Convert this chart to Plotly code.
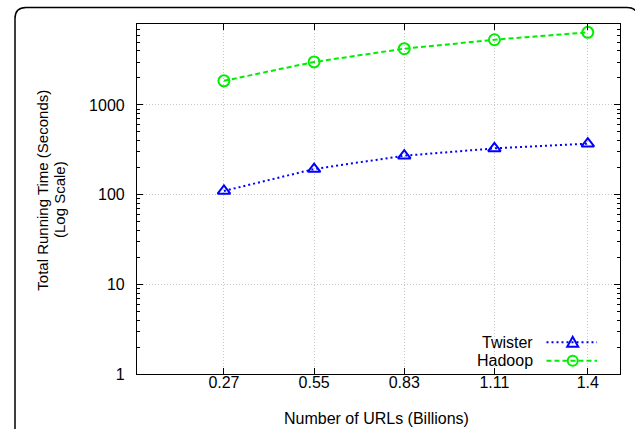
import plotly.graph_objects as go
import math

# ---- data ----
urls_billions = [0.27, 0.55, 0.83, 1.11, 1.4]
x_tick_labels = ["0.27", "0.55", "0.83", "1.11", "1.4"]
twister_seconds = [110, 193, 272, 328, 370]
hadoop_seconds = [1860, 3020, 4240, 5340, 6460]
y_tick_values = [1, 10, 100, 1000]
y_tick_labels = ["1", "10", "100", "1000"]

W, H = 635, 429
L, R, T, B = 137, 15, 24, 55
PW, PH = W - L - R, H - T - B

def px(xp):
    return (xp - L) / PW

def py(yp):
    return (H - B - yp) / PH

BLUE = "#0000ff"
GREEN = "#00ee00"
FONT = "Liberation Sans, Arial, Helvetica, sans-serif"

fig = go.Figure()
fig.add_trace(go.Scatter(
    x=urls_billions, y=twister_seconds, name="Twister", mode="lines+markers",
    line=dict(color=BLUE, width=2, dash="2px,3px"),
    marker=dict(symbol="triangle-up-open", size=11, color=BLUE, line=dict(width=2, color=BLUE)),
    showlegend=False))
fig.add_trace(go.Scatter(
    x=urls_billions, y=hadoop_seconds, name="Hadoop", mode="lines+markers",
    line=dict(color=GREEN, width=2, dash="5px,3px"),
    marker=dict(symbol="circle-open", size=11, color=GREEN, line=dict(width=2, color=GREEN)),
    showlegend=False))

shapes = []
# rounded outer border
x0, x1, y0, y1, r = 15, 638, 7.5, 445, 11
path = (f"M {px(x0+r)},{py(y0)} L {px(x1-r)},{py(y0)} Q {px(x1)},{py(y0)} {px(x1)},{py(y0+r)} "
        f"L {px(x1)},{py(y1-r)} Q {px(x1)},{py(y1)} {px(x1-r)},{py(y1)} "
        f"L {px(x0+r)},{py(y1)} Q {px(x0)},{py(y1)} {px(x0)},{py(y1-r)} "
        f"L {px(x0)},{py(y0+r)} Q {px(x0)},{py(y0)} {px(x0+r)},{py(y0)} Z")
shapes.append(dict(type="path", xref="paper", yref="paper", path=path,
                   line=dict(color="black", width=1.5), layer="below"))

# custom legend (text left of sample, gnuplot style)
leg = [("Twister", BLUE, "2px,3px", 342.3, "tri"), ("Hadoop", GREEN, "5px,3px", 360.7, "circ")]
annotations = []
for name, col, dash, yy, mk in leg:
    annotations.append(dict(text=name, x=px(535), y=py(yy), xref="paper", yref="paper",
                            xanchor="right", yanchor="middle", showarrow=False,
                            font=dict(size=16, color="black", family=FONT)))
    shapes.append(dict(type="line", xref="paper", yref="paper", x0=px(546.5), x1=px(597),
                       y0=py(yy), y1=py(yy), line=dict(color=col, width=2, dash=dash)))
    cx = 572.7
    if mk == "tri":
        p = (f"M {px(cx-5.5)},{py(yy+4.5)} L {px(cx+5.5)},{py(yy+4.5)} L {px(cx)},{py(yy-5.5)} Z")
        shapes.append(dict(type="path", xref="paper", yref="paper", path=p,
                           line=dict(color=col, width=2), fillcolor="rgba(0,0,0,0)"))
    else:
        shapes.append(dict(type="circle", xref="paper", yref="paper",
                           x0=px(cx-5), x1=px(cx+5), y0=py(yy+5), y1=py(yy-5),
                           line=dict(color=col, width=2)))

# y-axis title (two lines)
annotations.append(dict(text="Total Running Time (Seconds)", x=px(41.7), y=py(190),
                        xref="paper", yref="paper", textangle=-90, showarrow=False,
                        xanchor="center", yanchor="middle",
                        font=dict(size=15, color="black", family=FONT)))
annotations.append(dict(text="(Log Scale)", x=px(59), y=py(200),
                        xref="paper", yref="paper", textangle=-90, showarrow=False,
                        xanchor="center", yanchor="middle",
                        font=dict(size=15, color="black", family=FONT)))
annotations.append(dict(text="Number of URLs (Billions)", x=px(376), y=py(418),
                        xref="paper", yref="paper", showarrow=False,
                        xanchor="center", yanchor="middle",
                        font=dict(size=16, color="black", family=FONT)))

fig.update_layout(
    width=W, height=H, margin=dict(l=L, r=R, t=T, b=B, autoexpand=False),
    paper_bgcolor="white", plot_bgcolor="white",
    font=dict(family=FONT, size=16, color="black"),
    shapes=shapes, annotations=annotations,
    xaxis=dict(range=[0, 1.5], tickmode="array", tickvals=urls_billions, ticktext=x_tick_labels,
               ticks="inside", ticklen=6, tickwidth=1, tickcolor="black",
               showline=True, linecolor="black", linewidth=1.2, mirror="ticks",
               showgrid=True, gridcolor="#c8c8c8", griddash="1px,2px", gridwidth=1,
               zeroline=False, ticklabelstandoff=-6),
    yaxis=dict(type="log", range=[0, math.log10(8000)], tickmode="array",
               tickvals=y_tick_values, ticktext=y_tick_labels,
               ticks="inside", ticklen=6, tickwidth=1, tickcolor="black",
               minor=dict(ticks="inside", ticklen=3, tickcolor="black", tickwidth=1,
                          tickvals=[m * 10 ** e for e in range(0, 4) for m in range(2, 10)]),
               showline=True, linecolor="black", linewidth=1.2, mirror="ticks",
               showgrid=True, gridcolor="#c8c8c8", griddash="1px,2px", gridwidth=1,
               zeroline=False, ticklabelstandoff=8),
)

fig.write_html("out.html", config={"displayModeBar": False},
               post_script="document.body.style.margin='0';document.body.style.padding='0';")
